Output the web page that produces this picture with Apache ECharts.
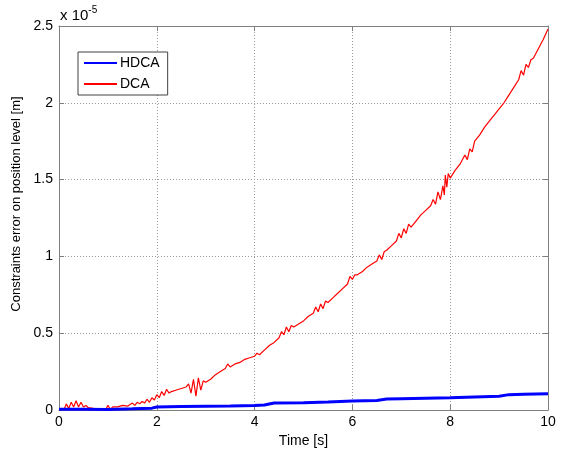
<!DOCTYPE html>
<html>
<head>
<meta charset="utf-8">
<script src="https://cdn.jsdelivr.net/npm/echarts@6/dist/echarts.min.js"></script>
<style>html,body{margin:0;padding:0;background:#fff}#c{width:562px;height:454px}</style>
</head>
<body>
<div id="c"></div>
<script>
// Values in units of 1e-5 m
var dcaTime = [0,0.05,0.1,0.15,0.2,0.25,0.3,0.35,0.4,0.45,0.5,0.55,0.6,0.7,0.8,0.9,0.95,1.0,1.05,1.1,1.2,1.3,1.4,1.5,1.55,1.6,1.65,1.7,1.75,1.8,1.85,1.9,1.95,2.0,2.05,2.1,2.15,2.2,2.25,2.3,2.4,2.5,2.6,2.65,2.7,2.75,2.8,2.85,2.9,2.95,3.0,3.1,3.2,3.3,3.4,3.45,3.5,3.6,3.7,3.8,3.9,4.0,4.05,4.1,4.2,4.3,4.4,4.5,4.55,4.6,4.65,4.7,4.75,4.8,4.9,5.0,5.1,5.2,5.25,5.3,5.35,5.4,5.45,5.5,5.6,5.7,5.8,5.9,5.95,6.0,6.05,6.1,6.2,6.3,6.4,6.5,6.55,6.6,6.65,6.7,6.8,6.9,6.95,7.0,7.05,7.1,7.15,7.2,7.3,7.4,7.5,7.6,7.65,7.7,7.75,7.8,7.85,7.88,7.9,7.93,7.96,8.0,8.1,8.2,8.3,8.35,8.4,8.45,8.5,8.6,8.7,8.8,8.9,9.0,9.1,9.2,9.3,9.4,9.45,9.5,9.55,9.6,9.65,9.7,9.8,9.9,10.0];
var dcaValue = [0,0.01,0.0,0.04,0.01,0.05,0.02,0.06,0.02,0.05,0.02,0.03,0.015,0.01,0.0,0.005,0.0,0.03,0.005,0.02,0.02,0.03,0.025,0.045,0.03,0.05,0.04,0.055,0.045,0.07,0.05,0.08,0.065,0.1,0.08,0.12,0.095,0.135,0.11,0.12,0.13,0.14,0.15,0.17,0.11,0.2,0.09,0.21,0.13,0.19,0.18,0.2,0.23,0.25,0.27,0.3,0.28,0.3,0.31,0.33,0.34,0.35,0.37,0.36,0.39,0.42,0.44,0.47,0.51,0.49,0.54,0.51,0.55,0.54,0.56,0.58,0.61,0.63,0.67,0.64,0.69,0.66,0.71,0.7,0.73,0.76,0.79,0.82,0.87,0.85,0.88,0.88,0.9,0.93,0.95,0.97,1.01,0.98,1.03,1.04,1.07,1.1,1.15,1.12,1.18,1.15,1.21,1.19,1.23,1.27,1.3,1.33,1.37,1.34,1.42,1.37,1.46,1.4,1.53,1.45,1.54,1.51,1.56,1.6,1.66,1.63,1.7,1.68,1.75,1.79,1.84,1.88,1.92,1.96,2.0,2.05,2.1,2.15,2.21,2.18,2.25,2.23,2.28,2.29,2.35,2.41,2.48];
var hdcaTime = [0,0.5,1.0,1.5,1.9,2.0,2.5,3.0,3.5,4.0,4.2,4.4,5.0,5.5,6.0,6.5,6.7,7.0,7.5,8.0,8.5,9.0,9.2,9.5,10.0];
var hdcaValue = [0.005,0.005,0.004,0.008,0.012,0.02,0.022,0.024,0.026,0.03,0.032,0.045,0.048,0.052,0.058,0.062,0.072,0.074,0.077,0.08,0.085,0.09,0.1,0.102,0.105];
var xTicks = [0,2,4,6,8,10];
var yTicks = [0,0.5,1,1.5,2,2.5];

function pairs(t, v){ return t.map(function(x,i){ return [x, v[i]]; }); }

var chart = echarts.init(document.getElementById('c'));
var font = 'Liberation Sans, Arial, sans-serif';
var axisCol = '#808080';
var baseAxis = {
  axisLine: {show: true, onZero: false, lineStyle: {color: axisCol, width: 1}},
  axisTick: {show: true, inside: true, length: 5, lineStyle: {color: axisCol}},
  splitLine: {show: false}
};
chart.setOption({
  animation: false,
  backgroundColor: '#fff',
  grid: {left: 59, top: 26, right: 14, bottom: 44, containLabel: false},
  legend: {
    left: 78, top: 52, orient: 'vertical',
    itemWidth: 33, itemHeight: 14, itemGap: 7,
    padding: [4, 8, 4, 5],
    borderColor: '#404040', borderWidth: 1, backgroundColor: '#fff',
    itemStyle: {opacity: 0},
    textStyle: {fontFamily: font, fontSize: 14, color: '#000', padding: [0,0,0,-2]},
    data: ['HDCA', 'DCA']
  },
  xAxis: [
    Object.assign({}, baseAxis, {
      type: 'value', min: 0, max: 10, interval: 2, position: 'bottom',
      name: 'Time [s]', nameLocation: 'middle', nameGap: 20,
      nameTextStyle: {fontFamily: font, fontSize: 14, color: '#000'},
      axisLabel: {fontFamily: font, fontSize: 14, color: '#000', margin: 5},
      splitLine: {show: true, lineStyle: {type: [1, 2], color: '#999', width: 1}}
    }),
    Object.assign({}, baseAxis, {
      type: 'value', min: 0, max: 10, interval: 2, position: 'top',
      axisLabel: {show: false}
    })
  ],
  yAxis: [
    Object.assign({}, baseAxis, {
      type: 'value', min: 0, max: 2.5, interval: 0.5, position: 'left',
      name: 'Constraints error on position level [m]', nameLocation: 'middle', nameGap: 33,
      nameTextStyle: {fontFamily: font, fontSize: 13, color: '#000', padding: [0, 0, 0, 28]},
      axisLabel: {fontFamily: font, fontSize: 14, color: '#000', margin: 6},
      splitLine: {show: true, lineStyle: {type: [1, 2], color: '#999', width: 1}}
    }),
    Object.assign({}, baseAxis, {
      type: 'value', min: 0, max: 2.5, interval: 0.5, position: 'right',
      axisLabel: {show: false}
    })
  ],
  graphic: [{
    type: 'text', left: 60, top: 5,
    style: {
      text: '{b|x 10}{s|-5}',
      rich: {
        b: {fontFamily: font, fontSize: 15, fill: '#000', verticalAlign: 'bottom', lineHeight: 18},
        s: {fontFamily: font, fontSize: 10, fill: '#000', verticalAlign: 'top', padding: [0,0,8,0], lineHeight: 18}
      }
    }
  }],
  series: [
    {name: 'HDCA', type: 'line', data: pairs(hdcaTime, hdcaValue), symbol: 'none', xAxisIndex: 0, yAxisIndex: 0,
     lineStyle: {color: '#0000ff', width: 3}, itemStyle: {color: '#0000ff'}, z: 3},
    {name: 'DCA', type: 'line', data: pairs(dcaTime, dcaValue), symbol: 'none', xAxisIndex: 0, yAxisIndex: 0,
     lineStyle: {color: '#ff0000', width: 1.2}, itemStyle: {color: '#ff0000'}, z: 2}
  ]
});
</script>
</body>
</html>
